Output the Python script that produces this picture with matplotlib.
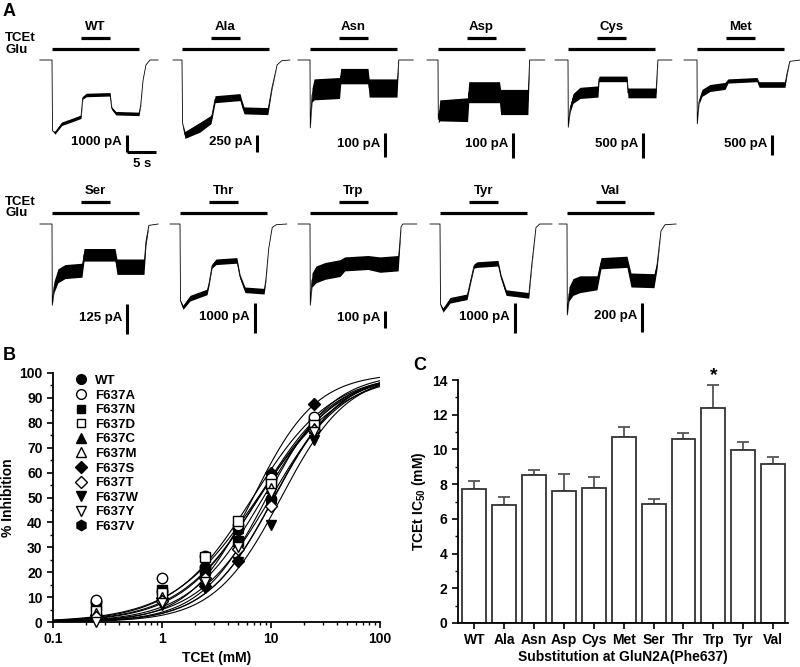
import numpy as np
import matplotlib
matplotlib.use('Agg')
import matplotlib.pyplot as plt
from matplotlib.lines import Line2D

plt.rcParams['font.family'] = ['Liberation Sans', 'DejaVu Sans']
plt.rcParams['font.weight'] = 'bold'
plt.rcParams['axes.labelweight'] = 'bold'
plt.rcParams['mathtext.default'] = 'regular'

# ---------------- Panel A data (time in s, current normalised to peak) ----------------
trace_names = ['WT', 'Ala', 'Asn', 'Asp', 'Cys', 'Met', 'Ser', 'Thr', 'Trp', 'Tyr', 'Val']
scale_labels = ['1000 pA', '250 pA', '100 pA', '100 pA', '500 pA', '500 pA',
                '125 pA', '1000 pA', '100 pA', '1000 pA', '200 pA']
glu_on, glu_off = 0, 15
tcet_on, tcet_off = 5, 10
time_bar = 5  # s

wt_t = [-2.1, 0, 0.09, 0.5, 1.7, 3.4, 5.0, 5.3, 5.9, 10.0, 10.3, 11.0, 15.0, 15.3, 15.7, 16.2, 16.9, 18.3]
wt_i = [0, 0, -1.01, -1.04, -0.91, -0.86, -0.81, -0.54, -0.5, -0.49, -0.69, -0.76, -0.77, -0.64, -0.29, -0.07, 0, 0]
wt_w = [0, 0, 0, 0.02, 0.025, 0.025, 0.025, 0.02, 0.025, 0.025, 0.02, 0.025, 0.025, 0.01, 0, 0, 0, 0]

ala_t = [-1.55, 0, 0.1, 0.5, 3.1, 5.0, 5.2, 5.7, 10.0, 10.3, 10.7, 14.8, 15.5, 16.4, 17.2, 18.6]
ala_i = [0, 0, -0.9, -1.07, -0.96, -0.85, -0.78, -0.56, -0.53, -0.62, -0.72, -0.73, -0.4, -0.07, -0.01, 0]
ala_w = [0, 0, 0, 0.05, 0.07, 0.06, 0.05, 0.05, 0.05, 0.05, 0.05, 0.05, 0.02, 0, 0, 0]

asn_t = [-2.07, 0, 0.05, 0.35, 0.7, 5.1, 5.3, 10.0, 10.2, 15.0, 15.3, 17.8]
asn_i = [0, 0, -0.97, -0.5, -0.42, -0.4, -0.23, -0.23, -0.4, -0.4, 0, 0]
asn_w = [0, 0, 0, 0.1, 0.15, 0.15, 0.11, 0.11, 0.13, 0.13, 0, 0]

asp_t = [-1.9, 0, 0.05, 0.3, 5.1, 5.3, 10.6, 10.8, 15.5, 15.8, 18.4]
asp_i = [0, 0, -0.85, -0.72, -0.71, -0.46, -0.46, -0.6, -0.6, 0, 0]
asp_w = [0, 0, 0.05, 0.15, 0.17, 0.15, 0.15, 0.18, 0.18, 0, 0]

cys_t = [-2.24, 0, 0.05, 0.35, 0.86, 2.07, 5.17, 5.34, 10.17, 10.34, 15.17, 15.5, 17.9]
cys_i = [0, 0, -0.96, -0.7, -0.55, -0.47, -0.45, -0.27, -0.27, -0.47, -0.47, 0, 0]
cys_w = [0, 0, 0, 0.05, 0.07, 0.08, 0.08, 0.04, 0.04, 0.07, 0.07, 0, 0]

met_t = [-2.24, 0, 0.05, 0.34, 0.86, 2.24, 4.83, 5.34, 10.34, 10.7, 15.17, 15.5, 16.0, 17.8]
met_i = [0, 0, -0.91, -0.6, -0.47, -0.4, -0.37, -0.3, -0.28, -0.35, -0.35, -0.2, -0.02, 0]
met_w = [0, 0, 0, 0.03, 0.05, 0.05, 0.05, 0.03, 0.03, 0.04, 0.04, 0.02, 0, 0]

ser_t = [-2.07, 0, 0.05, 0.34, 1.03, 2.24, 5.17, 5.52, 10.86, 11.2, 15.86, 16.2, 16.7, 18.3]
ser_i = [0, 0, -1.16, -0.9, -0.74, -0.68, -0.66, -0.44, -0.44, -0.61, -0.61, -0.25, -0.02, 0]
ser_w = [0, 0, 0, 0.08, 0.1, 0.1, 0.1, 0.09, 0.09, 0.11, 0.11, 0.05, 0, 0]

thr_t = [-1.72, 0, 0.09, 0.52, 1.72, 4.66, 5.0, 5.52, 6.2, 9.8, 10.34, 11.2, 14.5, 14.8, 15.3, 15.9, 16.6, 18.4]
thr_i = [0, 0, -1.1, -1.19, -1.06, -0.97, -0.85, -0.6, -0.54, -0.52, -0.75, -0.94, -0.96, -0.8, -0.35, -0.05, -0.01, 0]
thr_w = [0, 0, 0.01, 0.03, 0.04, 0.04, 0.03, 0.03, 0.04, 0.04, 0.03, 0.04, 0.04, 0.02, 0, 0, 0, 0]

trp_t = [-2.07, 0, 0.05, 0.34, 1.03, 2.6, 5.17, 6.0, 10.0, 12.07, 15.2, 15.7, 16.0, 18.4]
trp_i = [0, 0, -1.16, -0.8, -0.72, -0.67, -0.63, -0.57, -0.55, -0.58, -0.56, -0.04, 0, 0]
trp_w = [0, 0, 0, 0.1, 0.12, 0.12, 0.12, 0.1, 0.1, 0.11, 0.11, 0, 0, 0]

tyr_t = [-1.72, 0, 0.09, 0.52, 1.72, 4.66, 5.17, 5.86, 6.4, 10.0, 10.5, 11.4, 15.3, 15.86, 16.55, 17.2, 19.3]
tyr_i = [0, 0, -1.15, -1.23, -1.09, -1.04, -0.85, -0.6, -0.58, -0.56, -0.75, -0.98, -1.02, -0.55, -0.05, 0, 0]
tyr_w = [0, 0, 0.01, 0.03, 0.04, 0.04, 0.03, 0.03, 0.04, 0.04, 0.03, 0.04, 0.04, 0.02, 0, 0, 0]

val_t = [-1.38, 0, 0.05, 0.34, 1.03, 2.24, 5.17, 5.86, 10.34, 11.03, 15.0, 15.5, 16.2, 16.9, 18.8]
val_i = [0, 0, -1.3, -1.0, -0.9, -0.86, -0.84, -0.56, -0.54, -0.8, -0.81, -0.6, -0.1, -0.01, 0]
val_w = [0, 0, 0, 0.1, 0.12, 0.12, 0.1, 0.08, 0.08, 0.1, 0.1, 0.05, 0, 0, 0]

traces = [(wt_t, wt_i, wt_w), (ala_t, ala_i, ala_w), (asn_t, asn_i, asn_w),
          (asp_t, asp_i, asp_w), (cys_t, cys_i, cys_w), (met_t, met_i, met_w),
          (ser_t, ser_i, ser_w), (thr_t, thr_i, thr_w), (trp_t, trp_i, trp_w),
          (tyr_t, tyr_i, tyr_w), (val_t, val_i, val_w)]

# ---------------- Panel B data ----------------
conc = [0.25, 1, 2.5, 5, 10, 25]
b_labels = ['WT', 'F637A', 'F637N', 'F637D', 'F637C', 'F637M',
            'F637S', 'F637T', 'F637W', 'F637Y', 'F637V']
inh_wt = [8, 12.5, 22, 37.5, 49.5, 81]
inh_a = [9, 17.5, 26.5, 39, 58, 82.5]
inh_n = [7, 13, 21, 32.5, 56, 80]
inh_d = [4.5, 11.5, 26, 40.5, 55.5, 79]
inh_c = [5.5, 11, 23, 38, 59, 80]
inh_m = [3.5, 10, 19, 31, 54, 78]
inh_s = [3, 9.5, 14.5, 24.5, 60, 87.5]
inh_t = [2, 8.5, 17.5, 29.5, 46.5, 77]
inh_w = [1.5, 7, 13.5, 24, 39, 73]
inh_y = [0, 7.5, 16, 30, 52, 76.5]
inh_v = [7.5, 12, 20, 37, 49, 81]
inh_all = [inh_wt, inh_a, inh_n, inh_d, inh_c, inh_m, inh_s, inh_t, inh_w, inh_y, inh_v]
hill_n = [1.23, 1.19, 1.28, 1.11, 1.19, 1.4, 1.5, 1.41, 1.42, 1.28, 1.44]

# ---------------- Panel C data ----------------
c_cats = ['WT', 'Ala', 'Asn', 'Asp', 'Cys', 'Met', 'Ser', 'Thr', 'Trp', 'Tyr', 'Val']
ic50 = [7.7, 6.8, 8.5, 7.6, 7.8, 10.7, 6.85, 10.6, 12.4, 9.95, 9.15]
ic50_sem = [0.5, 0.48, 0.3, 0.96, 0.62, 0.58, 0.27, 0.33, 1.32, 0.48, 0.44]
signif = ['', '', '', '', '', '', '', '', '*', '', '']

# ================= Figure =================
W, H = 800, 667
fig = plt.figure(figsize=(8, 6.67), dpi=100)


def fx(x):
    return x / W


def fy(y):
    return 1 - y / H


# ---------------- Panel A ----------------
PX_S = 5.8      # px per second
PX_U = 70.0     # px per normalised unit
T0, T1 = -2.2, 19.5
Y0, Y1 = -1.45, 0.6
glu_px = [52, 182, 310, 438, 568, 697, 52, 180, 310, 440, 567]
base_px = [60] * 6 + [224] * 5
bar_span = [(135, 152), (135, 152), (133, 157), (133, 158), (133, 158), (135, 155),
            (304, 334), (303, 333), (311, 328), (303, 333), (303, 332)]

for k, (tt, ii, ww) in enumerate(traces):
    g, b = glu_px[k], base_px[k]
    left = g + T0 * PX_S
    top = b - Y1 * PX_U
    wpx = (T1 - T0) * PX_S
    hpx = (Y1 - Y0) * PX_U
    ax = fig.add_axes([fx(left), fy(top + hpx), wpx / W, hpx / H])
    ax.set_xlim(T0, T1)
    ax.set_ylim(Y0, Y1)
    ax.axis('off')
    tt = np.array(tt); ii = np.array(ii); ww = np.array(ww)
    ax.fill_between(tt, ii - ww, ii + ww, color='black', lw=0, clip_on=False)
    ax.plot(tt, ii, color='black', lw=0.6, clip_on=False)
    # stimulus bars
    ax.plot([glu_on, glu_off], [0.157, 0.157], color='black', lw=2.3, solid_capstyle='butt', clip_on=False)
    ax.plot([tcet_on, tcet_off], [0.314, 0.314], color='black', lw=2.3, solid_capstyle='butt', clip_on=False)
    ax.text((tcet_on + tcet_off) / 2, 0.47, trace_names[k], ha='center', va='center',
            fontsize=9.5, fontweight='bold')
    # scale bar
    xs = 12.9
    y_a = -(bar_span[k][0] - b) / PX_U
    y_b = -(bar_span[k][1] - b) / PX_U
    ax.plot([xs, xs], [y_a, y_b], color='black', lw=2.2, solid_capstyle='butt', clip_on=False)
    ax.text(xs - 0.8, (y_a + y_b) / 2 + 0.02, scale_labels[k], ha='right', va='center',
            fontsize=9.5, fontweight='bold')
    if k == 0:
        ax.plot([xs, xs + time_bar], [y_b, y_b], color='black', lw=2.2, solid_capstyle='butt', clip_on=False)
        ax.text(xs + time_bar / 2 + 0.1, y_b - 0.17, '5 s', ha='center', va='center',
                fontsize=9.5, fontweight='bold')

for yy in (38, 202):
    fig.text(fx(5), fy(yy), 'TCEt', ha='left', va='center', fontsize=9.5, fontweight='bold')
for yy in (50, 213):
    fig.text(fx(5), fy(yy), 'Glu', ha='left', va='center', fontsize=9.5, fontweight='bold')

fig.text(fx(3), fy(11), 'A', ha='left', va='center', fontsize=13, fontweight='bold')
fig.text(fx(3), fy(356), 'B', ha='left', va='center', fontsize=13, fontweight='bold')
fig.text(fx(413), fy(365), 'C', ha='left', va='center', fontsize=13, fontweight='bold')

# ---------------- Panel B ----------------
axB = fig.add_axes([fx(53), fy(622), 327 / W, 249 / H])
markers = ['o', 'o', 's', 's', '^', '^', 'D', 'D', 'v', 'v', 'h']
filled = [True, False, True, False, True, False, True, False, True, False, True]
msize = [7.5, 7.5, 6.5, 6.5, 7.5, 7.5, 6.5, 6.5, 7.5, 7.5, 8]
xc = np.logspace(-1, 2, 300)
for k in range(11):
    yc = 100.0 / (1.0 + (ic50[k] / xc) ** hill_n[k])
    axB.plot(xc, yc, color='black', lw=0.8, zorder=2)
handles = []
for k in range(11):
    fc = 'black' if filled[k] else 'white'
    axB.plot(conc, inh_all[k], linestyle='none', marker=markers[k], markersize=msize[k],
             markerfacecolor=fc, markeredgecolor='black', markeredgewidth=1.0,
             zorder=3 + (0 if filled[k] else 1), clip_on=False)
    handles.append(Line2D([], [], linestyle='none', marker=markers[k], markersize=msize[k] - 0.5,
                          markerfacecolor=fc, markeredgecolor='black', markeredgewidth=1.0))
axB.legend(handles, b_labels, loc='upper left', bbox_to_anchor=(0.04, 1.025), frameon=False,
           fontsize=9.5, handlelength=1.0, handletextpad=0.6, labelspacing=0.18, borderpad=0.1)
axB.set_xscale('log')
axB.set_xlim(0.1, 100)
axB.set_ylim(0, 100)
axB.set_yticks(np.arange(0, 101, 10))
axB.set_yticks(np.arange(5, 100, 10), minor=True)
axB.set_xticks([0.1, 1, 10, 100])
axB.set_xticklabels(['0.1', '1', '10', '100'])
axB.spines['top'].set_visible(False)
axB.spines['right'].set_visible(False)
for s in ('left', 'bottom'):
    axB.spines[s].set_linewidth(1.3)
axB.tick_params(axis='both', which='major', labelsize=10, width=1.2, length=4)
axB.tick_params(axis='both', which='minor', width=1.0, length=2.5)
axB.set_xlabel('TCEt (mM)', fontsize=10, fontweight='bold', labelpad=3)
axB.set_ylabel('% Inhibition', fontsize=10, fontweight='bold', labelpad=3)

# ---------------- Panel C ----------------
axC = fig.add_axes([fx(458), fy(623), 330 / W, 243 / H])
xpos = np.arange(len(c_cats))
axC.bar(xpos, ic50, width=0.8, color='white', edgecolor='#333333', linewidth=1.3, zorder=2)
axC.errorbar(xpos, ic50, yerr=[np.zeros(len(ic50)), ic50_sem], fmt='none',
             ecolor='#555555', elinewidth=1.3, capsize=4, capthick=1.3, zorder=1)
for k in range(len(c_cats)):
    if signif[k]:
        axC.text(xpos[k], ic50[k] + ic50_sem[k] + 0.05, signif[k], ha='center', va='bottom',
                 fontsize=14, fontweight='bold')
axC.set_xlim(-0.55, 10.5)
axC.set_ylim(0, 14)
axC.set_yticks(np.arange(0, 15, 2))
axC.set_yticks(np.arange(1, 14, 2), minor=True)
axC.set_xticks(xpos)
axC.set_xticklabels(c_cats)
axC.spines['top'].set_visible(False)
axC.spines['right'].set_visible(False)
for s in ('left', 'bottom'):
    axC.spines[s].set_linewidth(1.3)
axC.tick_params(axis='both', which='major', labelsize=10, width=1.2, length=4)
axC.tick_params(axis='y', which='minor', width=1.0, length=2.5)
axC.set_xlabel('Substitution at GluN2A(Phe637)', fontsize=10, fontweight='bold', labelpad=2)
axC.set_ylabel(r'TCEt IC$_{50}$ (mM)', fontsize=10, fontweight='bold', labelpad=3)

fig.savefig('out.png', dpi=100)
